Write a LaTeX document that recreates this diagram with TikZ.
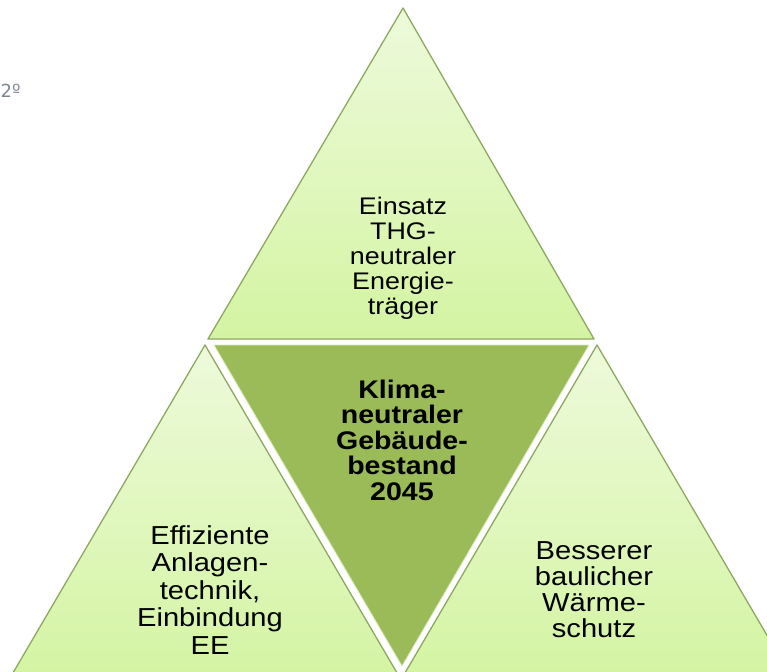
\documentclass[tikz,border=0pt]{standalone}
\usepackage{fontspec}
\setmainfont{Liberation Sans}
\newfontfamily\regf[FakeStretch=1.12]{Liberation Sans}
\newfontfamily\smallf{DejaVu Sans}
\definecolor{edge}{HTML}{8EA862}
\definecolor{lighttop}{HTML}{EDFADB}
\definecolor{lightbot}{HTML}{D4F4A2}
\definecolor{olive}{HTML}{9BBB59}
\definecolor{rim}{HTML}{D9ECB8}
\definecolor{note}{HTML}{7D8793}
\begin{document}
\begin{tikzpicture}[x=1pt,y=-1pt,
  sidetri/.style={draw=edge,line width=1.3pt,line join=round,top color=lighttop,bottom color=lightbot},
  centretri/.style={fill=olive,draw=rim,line width=0.8pt,line join=round},
  lbl/.style={align=center,text=black,font=\regf\fontsize{24}{25}\selectfont,inner sep=0pt},
  boldlbl/.style={align=center,text=black,font=\regf\bfseries\fontsize{25.5}{25.5}\selectfont,inner sep=0pt}]
\useasboundingbox (0,0) rectangle (767,671);
\begin{scope}
\clip (0,0) rectangle (767,671);
\fill[white] (0,0) rectangle (767,671);
% top triangle
\path[sidetri] (403,8) -- (594,339) -- (208,339) -- cycle;
% bottom-left triangle
\path[sidetri] (205,345) -- (400,678) -- (10,678) -- cycle;
% bottom-right triangle
\path[sidetri] (597,345) -- (792,678) -- (402,678) -- cycle;
% centre triangle
\path[centretri] (214,345) -- (589,345) -- (402,666) -- cycle;
\end{scope}
\node[anchor=west,text=note,font=\smallf\fontsize{18}{20}\selectfont,inner sep=0pt] (corner) at (0.5,91) {2º};
\node[lbl] (top) at (403,258) {Einsatz\\THG-\\neutraler\\Energie-\\träger};
\node[boldlbl] (mid) at (402,440) {Klima-\\neutraler\\Gebäude-\\bestand\\2045};
\node[lbl,font=\regf\fontsize{26}{27.5}\selectfont] (left) at (210,590) {Effiziente\\Anlagen-\\technik,\\Einbindung\\EE};
\node[lbl,font=\regf\fontsize{26}{26}\selectfont] (right) at (594,590) {Besserer\\baulicher\\Wärme-\\schutz};
\end{tikzpicture}
\end{document}
